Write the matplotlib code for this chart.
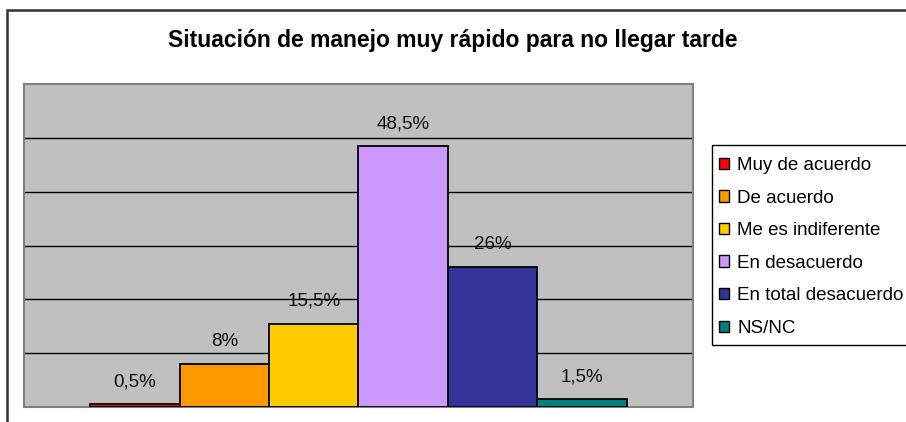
import matplotlib.pyplot as plt
from matplotlib.patches import Patch, Rectangle

plt.rcParams['font.family'] = ['Liberation Sans', 'DejaVu Sans']

# datos de la encuesta
categorias = ["Muy de acuerdo", "De acuerdo", "Me es indiferente",
              "En desacuerdo", "En total desacuerdo", "NS/NC"]
valores = [0.5, 8, 15.5, 48.5, 26, 1.5]
etiquetas = ["0,5%", "8%", "15,5%", "48,5%", "26%", "1,5%"]
colores = ["#FF0000", "#FF9900", "#FFCC00", "#CC99FF", "#333399", "#008080"]

W, H = 906, 422
fig = plt.figure(figsize=(W / 100, H / 100), dpi=100)
ax = fig.add_axes([24 / W, (H - 407) / H, (693 - 24) / W, (407 - 84) / H])
ax.set_facecolor("#C0C0C0")

x = list(range(len(valores)))
ax.bar(x, valores, width=1.0, color=colores, edgecolor="black", linewidth=1.3, zorder=3)
for xi, v, txt in zip(x, valores, etiquetas):
    ax.annotate(txt, (xi, v), xytext=(0, 16), textcoords="offset points",
                ha="center", va="center", fontsize=13.5, color="#111111", zorder=4)

ax.set_xlim(-1.24, 6.24)
ax.set_ylim(0, 60)
ax.set_yticks([10, 20, 30, 40, 50])
ax.grid(axis="y", color="black", linewidth=1, zorder=1)
ax.tick_params(left=False, bottom=False, labelleft=False, labelbottom=False)
for s in ax.spines.values():
    s.set_color("#808080")
    s.set_linewidth(1.5)

fig.text(0.5, 1 - 40 / H, "Situación de manejo muy rápido para no llegar tarde",
         ha="center", va="center", fontsize=16.5, fontweight="bold")

# leyenda sin marco, el marco se dibuja aparte (sale por el borde derecho)
handles = [Patch(facecolor=c, edgecolor="black", linewidth=1) for c in colores]
leg = fig.legend(handles, categorias, loc="upper left",
                 bbox_to_anchor=(712 / W, 1 - 150.5 / H), fontsize=13.5,
                 frameon=False, handlelength=0.55, handleheight=0.55,
                 handletextpad=0.45, labelspacing=0.83, borderpad=0.35,
                 borderaxespad=0)
fig.patches.append(Rectangle((712 / W, 1 - 345 / H), 0.5, 200 / H, fill=False,
                             edgecolor="black", linewidth=1,
                             transform=fig.transFigure))

# marco exterior
fig.patches.append(Rectangle((7 / W, -0.1), 2, 1 - 10 / H + 0.1, fill=False,
                             edgecolor="#333333", linewidth=1.8,
                             transform=fig.transFigure))

fig.savefig("out.png", dpi=100)
